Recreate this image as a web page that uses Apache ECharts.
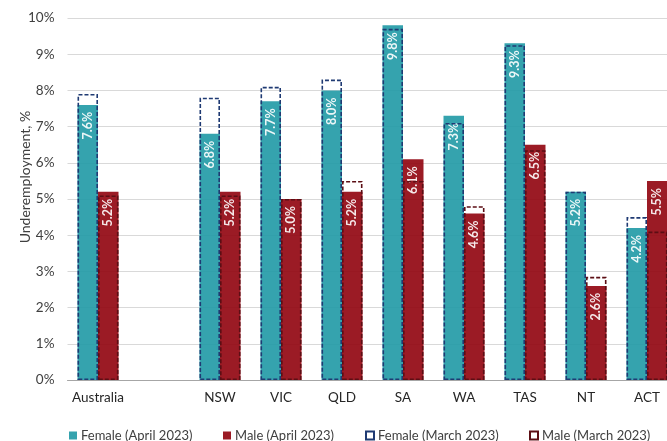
<!DOCTYPE html>
<html>
<head>
<meta charset="utf-8">
<script src="https://cdn.jsdelivr.net/npm/echarts@6/dist/echarts.min.js"></script>
<style>
  html, body { margin: 0; padding: 0; background: #ffffff; }
  #chart { width: 667px; height: 441px; }
</style>
</head>
<body>
<div id="chart"></div>
<script>
// Underemployment rate by state, female vs male, April 2023 with March 2023 outlines
const categories = ['Australia', '', 'NSW', 'VIC', 'QLD', 'SA', 'WA', 'TAS', 'NT', 'ACT'];
const femaleApril = [7.6, null, 6.8, 7.7, 8.0, 9.8, 7.3, 9.3, 5.2, 4.2];
const maleApril   = [5.2, null, 5.2, 5.0, 5.2, 6.1, 4.6, 6.5, 2.6, 5.5];
const femaleMarch = [7.9, null, 7.8, 8.1, 8.3, 9.7, 7.1, 9.25, 5.2, 4.5];
const maleMarch   = [5.1, null, 5.1, 5.0, 5.5, 5.5, 4.8, 6.35, 2.85, 4.1];
const seriesNames = ['Female (April 2023)', 'Male (April 2023)', 'Female (March 2023)', 'Male (March 2023)'];

const FONT = 'Lato';
const TEAL = '#1f99a5';
const MAROON = '#90020d';

const chart = echarts.init(document.getElementById('chart'), null, { renderer: 'canvas' });

const valueLabel = {
  show: true,
  position: 'insideTop',
  rotate: 90,
  align: 'right',
  verticalAlign: 'middle',
  distance: 7,
  color: '#ffffff',
  fontFamily: FONT,
  fontWeight: 'bold',
  fontSize: 12.5,
  formatter: p => p.value.toFixed(1) + '%'
};

const catAxis = (show) => ({
  type: 'category',
  data: categories,
  show: show,
  axisTick: { show: false },
  axisLine: { show: show, lineStyle: { color: '#a6a6a6', width: 1 } },
  axisLabel: { interval: 0, color: '#262626', fontFamily: FONT, fontSize: 13.5, margin: 11 }
});

// one legend block per series so each entry sits at its own position
const legendLefts = [69, 223, 365, 529];
const legends = seriesNames.map((name, i) => ({
  left: legendLefts[i],
  top: 429,
  padding: 0,
  itemWidth: 8,
  itemHeight: 8,
  itemGap: 0,
  icon: 'rect',
  data: [name],
  textStyle: { color: '#404040', fontFamily: FONT, fontSize: 13, padding: [0, 0, 0, -1] }
}));

chart.setOption({
  animation: false,
  backgroundColor: '#ffffff',
  // the last category runs a little past the right edge of the canvas
  grid: { left: 67.5, right: -10.5, top: 18, bottom: 61, containLabel: false, outerBoundsMode: 'none' },
  xAxis: [catAxis(true), catAxis(false)],
  yAxis: {
    type: 'value',
    min: 0,
    max: 10,
    interval: 1,
    axisLine: { show: false },
    axisTick: { show: false },
    splitLine: { lineStyle: { color: '#d9d9d9', width: 1.2 } },
    axisLabel: { formatter: '{value}%', color: '#404040', fontFamily: FONT, fontSize: 13.5, margin: 13 }
  },
  graphic: [{
    type: 'text',
    x: 25,
    y: 177,
    rotation: Math.PI / 2,
    style: {
      text: 'Underemployment, %',
      fill: '#404040',
      font: '14px ' + FONT,
      textAlign: 'center',
      textVerticalAlign: 'middle'
    }
  }],
  legend: legends,
  series: [
    {
      name: seriesNames[0], type: 'bar', xAxisIndex: 0, data: femaleApril,
      barWidth: 20.5, barGap: '0%',
      itemStyle: { color: TEAL, opacity: 0.9 },
      label: valueLabel
    },
    {
      name: seriesNames[1], type: 'bar', xAxisIndex: 0, data: maleApril,
      barWidth: 20.5, barGap: '0%',
      itemStyle: { color: MAROON, opacity: 0.9 },
      label: valueLabel
    },
    {
      name: seriesNames[2], type: 'bar', xAxisIndex: 1, data: femaleMarch,
      barWidth: 20.5, barGap: '0%', z: 3,
      itemStyle: { color: 'transparent', borderColor: '#1f3a73', borderWidth: 1.6, borderType: [4, 2] }
    },
    {
      name: seriesNames[3], type: 'bar', xAxisIndex: 1, data: maleMarch,
      barWidth: 20.5, barGap: '0%', z: 3,
      itemStyle: { color: 'transparent', borderColor: '#5c0e14', borderWidth: 1.6, borderType: [4, 2] }
    }
  ]
});
</script>
</body>
</html>
